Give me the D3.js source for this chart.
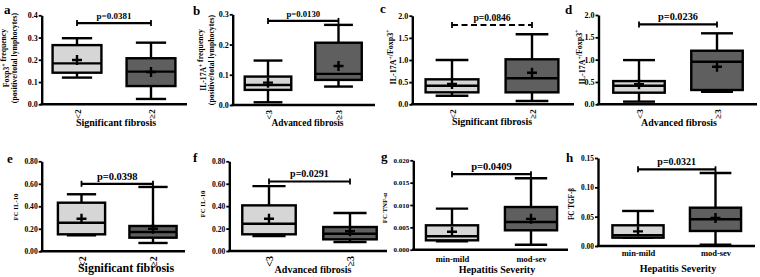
<!DOCTYPE html>
<html>
<head>
<meta charset="utf-8">
<script src="https://cdnjs.cloudflare.com/ajax/libs/d3/7.8.5/d3.min.js"></script>
<style>
  body { margin: 0; background: #fff; }
  svg { display: block; }
  text { font-family: "Liberation Serif", "Times New Roman", serif; font-weight: bold; fill: #000; }
</style>
</head>
<body>
<div id="chart"></div>
<script>
// group labels
var fibrosis2 = ["<2", "\u22652"];
var fibrosis3 = ["<3", "\u22653"];
var severity = ["min-mild", "mod-sev"];

// box stats per group: [min, q1, median, q3, max, mean]
var foxp3Freq     = [[0.12, 0.142, 0.184, 0.266, 0.297, 0.199], [0.024, 0.082, 0.147, 0.207, 0.277, 0.145]];
var il17aFreq     = [[0.009, 0.05, 0.066, 0.094, 0.147, 0.074], [0.061, 0.083, 0.103, 0.206, 0.265, 0.129]];
var il17aFoxp3Sig = [[0.194, 0.27, 0.42, 0.564, 1.0, 0.458], [0.074, 0.27, 0.587, 1.016, 1.58, 0.713]];
var il17aFoxp3Adv = [[0.06, 0.26, 0.417, 0.52, 0.99, 0.448], [0.28, 0.32, 0.954, 1.2, 1.59, 0.84]];
var il10Sig       = [[0.142, 0.151, 0.254, 0.432, 0.507, 0.29], [0.074, 0.121, 0.172, 0.225, 0.572, 0.201]];
var il10Adv       = [[0.134, 0.149, 0.243, 0.407, 0.579, 0.288], [0.08, 0.104, 0.154, 0.214, 0.339, 0.176]];
var tnfSev        = [[0.0019, 0.0021, 0.003, 0.00546, 0.0092, 0.004], [0.0011, 0.00434, 0.0062, 0.00955, 0.016, 0.0069]];
var tgfSev        = [[0.014, 0.0142, 0.0182, 0.0353, 0.0597, 0.025], [0.0022, 0.0256, 0.0455, 0.0653, 0.1244, 0.0477]];

// p values and the height of their brackets
var pLabels = ["p=0.0381", "p=0.0130", "p=0.0846", "p=0.0236", "p=0.0398", "p=0.0291", "p=0.0409", "p=0.0321"];
var pLevels = [0.365, 0.278, 1.79, 1.79, 0.60, 0.62, 0.0169, 0.1307];

// y tick values
var ticksA = [0, 0.1, 0.2, 0.3, 0.4];
var ticksB = [0, 0.1, 0.2, 0.3];
var ticksCD = [0, 0.5, 1.0, 1.5, 2.0];
var ticksEF = [0, 0.2, 0.4, 0.6, 0.8];
var ticksG = [0, 0.005, 0.01, 0.015, 0.02];
var ticksH = [0, 0.05, 0.1, 0.15];

var lightFill = "#d6d6d6",
    darkFill = "#5f5f5f";

var svg = d3.select("#chart").append("svg")
    .attr("width", 760)
    .attr("height", 277);

/*
 * BoxPanel - one small box plot with two groups
 */
BoxPanel = function(_cfg, _i){
	this.cfg = _cfg;
	this.index = _i;
	this.initVis();
}

BoxPanel.prototype.initVis = function(){
	var vis = this, c = vis.cfg;

	vis.g = svg.append("g");

	vis.y = d3.scaleLinear()
		.domain([0, c.ticks[c.ticks.length - 1]])
		.range(c.yRange);

	vis.x = d3.scalePoint()
		.domain(c.cats)
		.range(c.centers);

	vis.boxW = 0.66 * (c.centers[1] - c.centers[0]);
	vis.capW = 0.62 * vis.boxW;

	// y axis
	vis.yAxis = d3.axisLeft(vis.y)
		.tickValues(c.ticks)
		.tickFormat(d3.format(c.fmt))
		.tickSize(3)
		.tickSizeOuter(0)
		.tickPadding(1);

	var ya = vis.g.append("g")
		.attr("transform", "translate(" + c.axisX[0] + ",0)")
		.call(vis.yAxis);
	ya.attr("font-family", null);
	ya.select(".domain").attr("stroke-width", 2.4);
	ya.selectAll(".tick line").attr("stroke-width", 1.8);
	ya.selectAll("text")
		.attr("font-size", c.tickSize);

	// x axis line
	vis.g.append("line")
		.attr("x1", c.axisX[0] - 1.2).attr("x2", c.axisX[1])
		.attr("y1", vis.y(0)).attr("y2", vis.y(0))
		.attr("stroke", "#000").attr("stroke-width", 2.4);

	// x tick labels
	vis.xAxis = d3.axisBottom(vis.x).tickSize(0).tickPadding(6);
	var xa = vis.g.append("g")
		.attr("transform", "translate(0," + vis.y(0) + ")")
		.call(vis.xAxis);
	xa.attr("font-family", null);
	xa.select(".domain").remove();
	xa.selectAll("text")
		.attr("font-size", c.catSize);
	if (c.rotate) {
		xa.selectAll("text")
			.attr("transform", "rotate(-90)")
			.attr("text-anchor", "end")
			.attr("x", -5)
			.attr("y", 0)
			.attr("dy", "0.35em");
	} else {
		xa.selectAll("text").attr("dy", c.catDy);
	}

	// axis titles
	vis.g.append("text")
		.attr("x", c.xTitle[1]).attr("y", c.xTitle[2])
		.attr("text-anchor", "middle")
		.attr("font-size", c.xTitle[3])
		.text(c.xTitle[0]);

	c.yTitle.forEach(function(line, k){
		var t = vis.g.append("text")
			.attr("transform", "translate(" + c.yTitleX[k] + "," + c.yTitleY + ") rotate(-90)")
			.attr("text-anchor", "middle")
			.attr("font-size", c.yTitleSize);
		line.forEach(function(seg){
			if (seg[1]) {
				t.append("tspan").attr("dy", -3).attr("font-size", c.yTitleSize * 0.7).text(seg[0]);
				t.append("tspan").attr("dy", 3).text("");
			} else {
				t.append("tspan").text(seg[0]);
			}
		});
	});

	// panel letter
	vis.g.append("text")
		.attr("x", c.letter[1]).attr("y", c.letter[2])
		.attr("font-size", 13)
		.text(c.letter[0]);

	vis.updateVis();
}

BoxPanel.prototype.updateVis = function(){
	var vis = this, c = vis.cfg;
	var rows = c.cats.map(function(k, i){ return {cat: k, s: c.stats[i], i: i}; });
	var lw = 2.4;

	var box = vis.g.selectAll(".box")
		.data(rows)
		.enter().append("g")
		.attr("class", "box")
		.attr("transform", function(d){ return "translate(" + vis.x(d.cat) + ",0)"; });

	// whisker stem
	box.append("line")
		.attr("y1", function(d){ return vis.y(d.s[0]); })
		.attr("y2", function(d){ return vis.y(d.s[4]); })
		.attr("stroke", "#000").attr("stroke-width", lw);

	// caps
	[0, 4].forEach(function(j){
		box.append("line")
			.attr("x1", -vis.capW / 2).attr("x2", vis.capW / 2)
			.attr("y1", function(d){ return vis.y(d.s[j]); })
			.attr("y2", function(d){ return vis.y(d.s[j]); })
			.attr("stroke", "#000").attr("stroke-width", lw);
	});

	box.append("rect")
		.attr("x", -vis.boxW / 2)
		.attr("width", vis.boxW)
		.attr("y", function(d){ return vis.y(d.s[3]); })
		.attr("height", function(d){ return vis.y(d.s[1]) - vis.y(d.s[3]); })
		.attr("fill", function(d){ return d.i == 0 ? lightFill : darkFill; })
		.attr("stroke", "#000").attr("stroke-width", lw);

	// median
	box.append("line")
		.attr("x1", -vis.boxW / 2).attr("x2", vis.boxW / 2)
		.attr("y1", function(d){ return vis.y(d.s[2]); })
		.attr("y2", function(d){ return vis.y(d.s[2]); })
		.attr("stroke", "#000").attr("stroke-width", lw);

	// mean +
	box.append("path")
		.attr("d", function(d){
			var m = vis.y(d.s[5]);
			return "M-5," + m + "H5M0," + (m - 5) + "V" + (m + 5);
		})
		.attr("stroke", "#000").attr("stroke-width", 2.4);

	// significance bracket
	var by = vis.y(pLevels[vis.index]),
	    x1 = vis.x(c.cats[0]), x2 = vis.x(c.cats[1]);
	vis.g.append("line")
		.attr("x1", x1).attr("x2", x2).attr("y1", by).attr("y2", by)
		.attr("stroke", "#000").attr("stroke-width", 2.2)
		.attr("stroke-dasharray", c.dashed ? "6,3.5" : null);
	[x1, x2].forEach(function(xx){
		vis.g.append("line")
			.attr("x1", xx).attr("x2", xx).attr("y1", by - 3).attr("y2", by + 3)
			.attr("stroke", "#000").attr("stroke-width", 1.8);
	});
	vis.g.append("text")
		.attr("x", (x1 + x2) / 2).attr("y", by - 4)
		.attr("text-anchor", "middle")
		.attr("font-size", c.pSize)
		.text(pLabels[vis.index]);
}

var panelCfg = [
	{cats: fibrosis2, stats: foxp3Freq, ticks: ticksA, fmt: ".1f", yRange: [104.3, 15.3], axisX: [41.7, 187], centers: [77, 151],
	 rotate: true, catSize: 9, tickSize: 8, pSize: 9,
	 xTitle: ["Significant fibrosis", 116, 126, 10], letter: ["a", 4, 14],
	 yTitle: [[["Foxp3", 0], ["+", 1], [" frequency", 0]], [["(positive/total lymphocytes)", 0]]], yTitleX: [9, 17], yTitleY: 58, yTitleSize: 7.7},
	{cats: fibrosis3, stats: il17aFreq, ticks: ticksB, fmt: ".1f", yRange: [105, 14.3], axisX: [232.7, 375], centers: [268, 338.5],
	 rotate: true, catSize: 9, tickSize: 8, pSize: 8.7,
	 xTitle: ["Advanced fibrosis", 307.5, 126, 9.4], letter: ["b", 193, 15],
	 yTitle: [[["IL-17A", 0], ["+", 1], [" frequency", 0]], [["(positive/total lymphocytes)", 0]]], yTitleX: [206, 214], yTitleY: 60, yTitleSize: 7.7},
	{cats: fibrosis2, stats: il17aFoxp3Sig, ticks: ticksCD, fmt: ".1f", yRange: [104.3, 15.7], axisX: [412.3, 574], centers: [452, 532], dashed: true,
	 rotate: true, catSize: 9, tickSize: 8, pSize: 9.6,
	 xTitle: ["Significant fibrosis", 492, 124.5, 10], letter: ["c", 380, 13],
	 yTitle: [[["IL-17A", 0], ["+", 1], ["/Foxp3", 0], ["+", 1]]], yTitleX: [396], yTitleY: 57, yTitleSize: 8},
	{cats: fibrosis3, stats: il17aFoxp3Adv, ticks: ticksCD, fmt: ".1f", yRange: [104.3, 15], axisX: [598.5, 757], centers: [639, 717],
	 rotate: true, catSize: 9, tickSize: 8, pSize: 10.3,
	 xTitle: ["Advanced fibrosis", 679, 126, 9.9], letter: ["d", 565, 14],
	 yTitle: [[["IL-17A", 0], ["+", 1], ["/Foxp3", 0], ["+", 1]]], yTitleX: [585], yTitleY: 57, yTitleSize: 8},
	{cats: fibrosis2, stats: il10Sig, ticks: ticksEF, fmt: ".2f", yRange: [251.3, 161.3], axisX: [41.7, 185], centers: [81.5, 153],
	 rotate: true, catSize: 10, tickSize: 7.6, pSize: 10.5,
	 xTitle: ["Significant fibrosis", 126, 272, 12], letter: ["e", 7, 163],
	 yTitle: [[["FC IL-10", 0]]], yTitleX: [18], yTitleY: 207, yTitleSize: 6.8},
	{cats: fibrosis3, stats: il10Adv, ticks: ticksEF, fmt: ".2f", yRange: [251, 161.3], axisX: [229.3, 387], centers: [269, 350],
	 rotate: true, catSize: 10, tickSize: 7.6, pSize: 10,
	 xTitle: ["Advanced fibrosis", 313, 273, 10], letter: ["f", 193, 162],
	 yTitle: [[["FC IL-10", 0]]], yTitleX: [205], yTitleY: 204, yTitleSize: 6.8},
	{cats: severity, stats: tnfSev, ticks: ticksG, fmt: ".3f", yRange: [249.7, 160.3], axisX: [413.3, 568], centers: [452, 531],
	 rotate: false, catSize: 8.5, catDy: "0.71em", tickSize: 7, pSize: 10.5,
	 xTitle: ["Hepatitis Severity", 497, 273, 10], letter: ["g", 381, 161],
	 yTitle: [[["FC TNF-\u03b1", 0]]], yTitleX: [387], yTitleY: 208, yTitleSize: 6.8},
	{cats: severity, stats: tgfSev, ticks: ticksH, fmt: ".2f", yRange: [246, 158], axisX: [598, 755], centers: [638, 715.5],
	 rotate: false, catSize: 8.5, catDy: "0.5em", tickSize: 7.4, pSize: 10,
	 xTitle: ["Hepatitis Severity", 678, 272, 10], letter: ["h", 566, 162],
	 yTitle: [[["FC TGF-\u03b2", 0]]], yTitleX: [574], yTitleY: 204, yTitleSize: 7.2}
];

panelCfg.forEach(function(c, i){ new BoxPanel(c, i); });
</script>
</body>
</html>
